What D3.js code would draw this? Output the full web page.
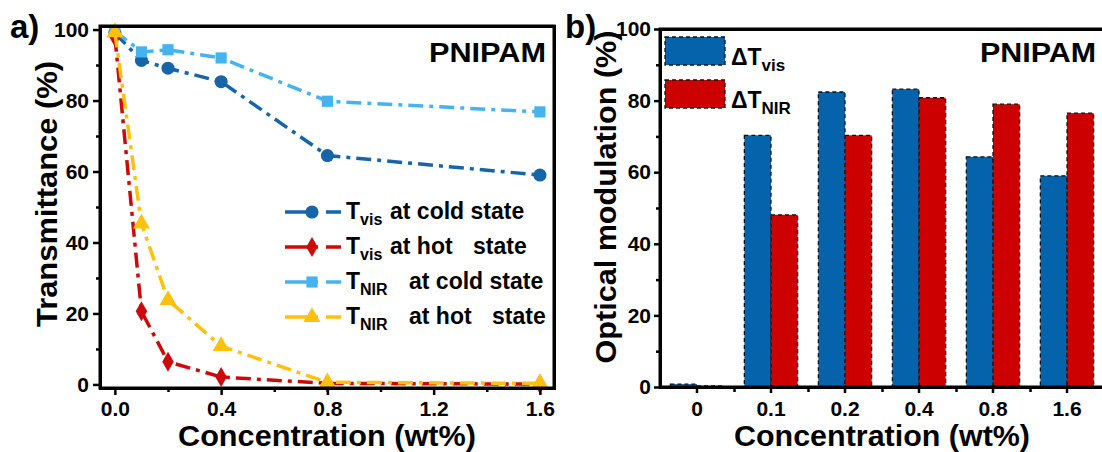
<!DOCTYPE html>
<html>
<head>
<meta charset="utf-8">
<script src="https://cdn.jsdelivr.net/npm/d3@7"></script>
<style>
  body { margin: 0; background: #fff; }
  #chart { position: relative; width: 1102px; height: 452px; }
  svg { display: block; font-family: "Liberation Sans", Arial, sans-serif; font-weight: bold; }
  .box { position: absolute; box-sizing: border-box; border: 3px solid #000; pointer-events: none; }
</style>
</head>
<body>
<div id="chart"></div>
<script>
/* Two-panel figure: transmittance lines (a) and optical modulation bars (b) */

const width = 1102, height = 452;

// data
const concs = [0, 0.1, 0.2, 0.4, 0.8, 1.6];
const concLabels = ["0", "0.1", "0.2", "0.4", "0.8", "1.6"];
const tVisCold = [99.0, 91.3, 89.1, 85.3, 64.5, 59.0];
const tVisHot = [98.0, 20.6, 6.4, 2.1, 0.3, 0.1];
const tNirCold = [99.6, 93.7, 94.3, 92.0, 79.8, 76.8];
const tNirHot = [99.2, 45.3, 23.8, 10.8, 0.6, 0.3];
const dVis = [0.8, 70.3, 82.4, 83.2, 64.3, 59.0];
const dNir = [0.3, 48.1, 70.3, 80.8, 79.0, 76.5];
const leftXTicks = [0, 0.4, 0.8, 1.2, 1.6];
const yTicks = [0, 20, 40, 60, 80, 100];

const chart = d3.select("#chart");

const svg = chart
  .append("svg")
  .attr("width", width)
  .attr("height", height);

svg.append("rect").attr("width", width).attr("height", height).attr("fill", "#fff");

// plot box: stroked rect in the svg, plus a bordered div over it
function drawBox(p) {
  svg.append("rect")
    .attr("x", p.left).attr("y", p.top)
    .attr("width", p.right - p.left).attr("height", p.bottom - p.top)
    .attr("fill", "none").attr("stroke", "#000").attr("stroke-width", 3);
  chart.append("div")
    .attr("class", "box")
    .style("left", (p.left - 1.5) + "px")
    .style("top", (p.top - 1.5) + "px")
    .style("width", (p.right - p.left + 3) + "px")
    .style("height", (p.bottom - p.top + 3) + "px");
}

function styleAxis(g, fs) {
  g.select(".domain").remove();
  g.selectAll(".tick line").attr("stroke", "black").attr("stroke-width", 2.5);
  g.selectAll("text").attr("fill", "#000").style("font-size", fs + "px").style("font-weight", "bold")
    .style("font-family", '"Liberation Sans", Arial, sans-serif');
}

// ---------- panel a ----------
const pa = { left: 100, right: 554, top: 26, bottom: 388 };

let x = d3.scaleLinear()
  .domain([-0.056, 1.653])
  .range([pa.left, pa.right]);

let y = d3.scaleLinear()
  .domain([-1, 101])
  .range([pa.bottom, pa.top]);

const series = [
  { name: "vis", state: "cold", values: tVisCold, color: "#1565a8", shape: d3.symbolCircle, size: 135 },
  { name: "vis", state: "hot", values: tVisHot, color: "#cc0a0a", shape: d3.symbolDiamond, size: 115 },
  { name: "NIR", state: "cold", values: tNirCold, color: "#45b3ef", shape: d3.symbolSquare, size: 125 },
  { name: "NIR", state: "hot", values: tNirHot, color: "#ffc10e", shape: d3.symbolTriangle, size: 125 }
];

const dash = "15,6,4,6";

let line = d3.line()
  .x((d, i) => x(concs[i]))
  .y(d => y(d));

series.forEach(s => {
  svg.append("path")
    .datum(s.values)
    .attr("d", line)
    .attr("fill", "none")
    .attr("stroke", s.color)
    .attr("stroke-width", 3.5)
    .attr("stroke-dasharray", dash);
  svg.selectAll(null)
    .data(s.values)
    .join("path")
    .attr("transform", (d, i) => `translate(${x(concs[i])},${y(d)})`)
    .attr("d", d3.symbol(s.shape, s.size))
    .attr("fill", s.color);
});

svg.append("g")
  .attr("transform", `translate(0,${pa.bottom})`)
  .call(d3.axisBottom(x).tickValues([0.2, 0.6, 1.0, 1.4]).tickSize(4).tickFormat(() => ""))
  .call(g => styleAxis(g, 21));
svg.append("g")
  .attr("transform", `translate(0,${pa.bottom})`)
  .call(d3.axisBottom(x).tickValues(leftXTicks).tickSize(7).tickPadding(6).tickFormat(d3.format(".1f")))
  .call(g => styleAxis(g, 21));

svg.append("g")
  .attr("transform", `translate(${pa.left},0)`)
  .call(d3.axisLeft(y).tickValues([10, 30, 50, 70, 90]).tickSize(4).tickFormat(() => ""))
  .call(g => styleAxis(g, 21));
svg.append("g")
  .attr("transform", `translate(${pa.left},0)`)
  .call(d3.axisLeft(y).tickValues(yTicks).tickSize(7).tickPadding(4))
  .call(g => styleAxis(g, 21));

drawBox(pa);

svg.append("text").attr("x", 10).attr("y", 38).style("font-size", "33px").text("a)");
svg.append("text").attr("x", 546).attr("y", 62).attr("text-anchor", "end")
  .attr("textLength", 117).attr("lengthAdjust", "spacingAndGlyphs")
  .style("font-size", "27px").text("PNIPAM");

svg.append("text")
  .attr("transform", `translate(57,${(pa.top + pa.bottom) / 2 - 13}) rotate(-90)`)
  .attr("text-anchor", "middle")
  .attr("textLength", 266).attr("lengthAdjust", "spacingAndGlyphs")
  .style("font-size", "30px")
  .text("Transmittance (%)");

svg.append("text")
  .attr("x", (pa.left + pa.right) / 2).attr("y", 446)
  .attr("text-anchor", "middle")
  .attr("textLength", 298).attr("lengthAdjust", "spacingAndGlyphs")
  .style("font-size", "29px")
  .text("Concentration (wt%)");

// legend a
const legY = [212, 247, 282, 317];
series.forEach((s, i) => {
  const ly = legY[i];
  svg.append("line")
    .attr("x1", 285).attr("x2", 341).attr("y1", ly).attr("y2", ly)
    .attr("stroke", s.color).attr("stroke-width", 3.5)
    .attr("stroke-dasharray", "33,8,30");
  svg.append("path")
    .attr("transform", `translate(312,${ly})`)
    .attr("d", d3.symbol(s.shape, s.size))
    .attr("fill", s.color);
  const t = svg.append("text").attr("y", ly + 7).style("font-size", "23px");
  t.append("tspan").attr("x", 346).text("T");
  t.append("tspan").attr("dy", 6).style("font-size", "16px").text(s.name);
  const x0 = s.name === "vis" ? 390 : 409;
  if (s.state === "cold") {
    t.append("tspan").attr("x", x0).attr("dy", -6).text("at cold state");
  } else {
    t.append("tspan").attr("x", x0).attr("dy", -6).text("at hot");
    t.append("tspan").attr("x", s.name === "vis" ? 473 : 492).text("state");
  }
});

// ---------- panel b ----------
const pb = { left: 660, right: 1104, top: 29, bottom: 387 };

let xb = d3.scaleBand()
  .domain(concLabels)
  .range([pb.left, pb.right])
  .paddingInner(0.28)
  .paddingOuter(0.14);

let xs = d3.scaleBand()
  .domain(["vis", "nir"])
  .range([0, xb.bandwidth()]);

let yb = d3.scaleLinear()
  .domain([0, 100])
  .range([pb.bottom, pb.top]);

const barSeries = [
  { key: "vis", values: dVis, color: "#0563ab" },
  { key: "nir", values: dNir, color: "#cc0000" }
];

barSeries.forEach(s => {
  svg.selectAll(null)
    .data(s.values)
    .join("rect")
    .attr("x", (d, i) => xb(concLabels[i]) + xs(s.key))
    .attr("y", d => yb(d))
    .attr("width", xs.bandwidth())
    .attr("height", d => yb(0) - yb(d))
    .attr("fill", s.color)
    .attr("stroke", "#111")
    .attr("stroke-width", 1.3)
    .attr("stroke-dasharray", "4,3");
});

let xi = d3.scaleLinear()
  .domain([-0.5, concLabels.length - 0.5])
  .range([pb.left, pb.right]);

svg.append("g")
  .attr("transform", `translate(0,${pb.bottom})`)
  .call(d3.axisBottom(xi).tickValues([0.5, 1.5, 2.5, 3.5, 4.5]).tickSize(5).tickFormat(() => ""))
  .call(g => styleAxis(g, 21));
svg.append("g")
  .attr("transform", `translate(0,${pb.bottom})`)
  .call(d3.axisBottom(xb).tickSize(6).tickPadding(8))
  .call(g => styleAxis(g, 21));

svg.append("g")
  .attr("transform", `translate(${pb.left},0)`)
  .call(d3.axisLeft(yb).tickValues([10, 30, 50, 70, 90]).tickSize(4).tickFormat(() => ""))
  .call(g => styleAxis(g, 21));
svg.append("g")
  .attr("transform", `translate(${pb.left},0)`)
  .call(d3.axisLeft(yb).tickValues(yTicks).tickSize(6).tickPadding(3))
  .call(g => styleAxis(g, 21));

drawBox(pb);

svg.append("text").attr("x", 565).attr("y", 38).style("font-size", "33px").text("b)");
svg.append("text").attr("x", 1096).attr("y", 62).attr("text-anchor", "end")
  .attr("textLength", 116).attr("lengthAdjust", "spacingAndGlyphs")
  .style("font-size", "27px").text("PNIPAM");

svg.append("text")
  .attr("transform", `translate(616,${(pb.top + pb.bottom) / 2 - 11}) rotate(-90)`)
  .attr("text-anchor", "middle")
  .attr("textLength", 333).attr("lengthAdjust", "spacingAndGlyphs")
  .style("font-size", "30px")
  .text("Optical modulation (%)");

svg.append("text")
  .attr("x", (pb.left + pb.right) / 2).attr("y", 446)
  .attr("text-anchor", "middle")
  .attr("textLength", 296).attr("lengthAdjust", "spacingAndGlyphs")
  .style("font-size", "29px")
  .text("Concentration (wt%)");

// legend b
const legB = [
  { sub: "vis", color: "#0563ab", y: 37 },
  { sub: "NIR", color: "#cc0000", y: 80 }
];
legB.forEach(l => {
  svg.append("rect")
    .attr("x", 665).attr("y", l.y).attr("width", 60).attr("height", 28)
    .attr("fill", l.color).attr("stroke", "#111").attr("stroke-width", 1.3)
    .attr("stroke-dasharray", "4,3");
  const t = svg.append("text").attr("x", 731).attr("y", l.y + 28).style("font-size", "23px");
  t.append("tspan").text("\u0394T");
  t.append("tspan").attr("dy", 6).style("font-size", "17px").text(l.sub);
});
</script>
</body>
</html>
